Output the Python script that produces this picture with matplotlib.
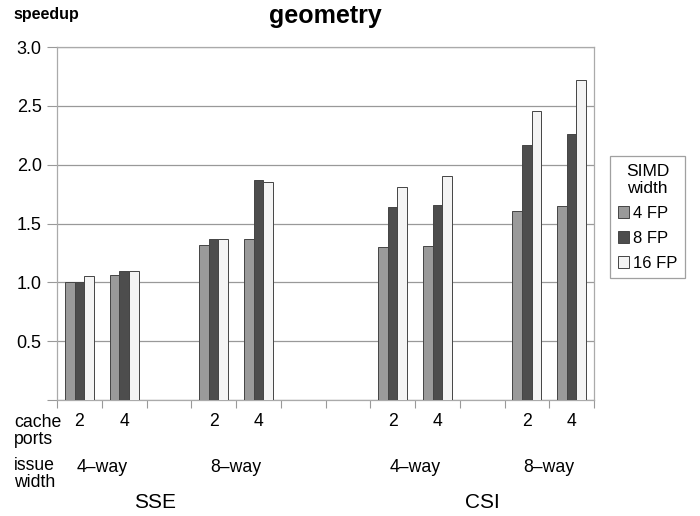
import matplotlib
matplotlib.use("Agg")
import matplotlib.pyplot as plt
import matplotlib.transforms as mtransforms
from matplotlib.patches import Patch
import numpy as np

plt.rcParams['font.family'] = ['Liberation Sans', 'DejaVu Sans']

# categories (None = empty gap slot)
cache_ports = ["2", "4", None, "2", "4", None, None, "2", "4", None, "2", "4"]
issue_labels = ["4–way", "8–way", "4–way", "8–way"]
issue_pos = [0.5, 3.5, 7.5, 10.5]
isa_labels = ["SSE", "CSI"]
isa_pos = [1.7, 9.0]

series_names = ["4 FP", "8 FP", "16 FP"]
fp4 = [1.00, 1.06, None, 1.32, 1.37, None, None, 1.30, 1.305, None, 1.61, 1.65]
fp8 = [1.00, 1.10, None, 1.367, 1.87, None, None, 1.64, 1.66, None, 2.165, 2.26]
fp16 = [1.05, 1.10, None, 1.367, 1.853, None, None, 1.81, 1.90, None, 2.46, 2.72]
colors = ["#9a9a9a", "#4d4d4d", "#f4f4f4"]

fig = plt.figure(figsize=(7.0, 5.16), dpi=100)
ax = fig.add_axes([57/700, 1-400/516, (594-57)/700, (400-47)/516])

n = len(cache_ports)
bw = 0.215
for k, (vals, c) in enumerate(zip([fp4, fp8, fp16], colors)):
    xs = [i + (k-1)*bw for i in range(n) if vals[i] is not None]
    hs = [v for v in vals if v is not None]
    ax.bar(xs, hs, width=bw, color=c, edgecolor="#444444", linewidth=0.7, zorder=3)

ax.set_xlim(-0.5, n-0.5)
ax.set_ylim(0, 3.0)
ax.set_yticks(np.arange(0, 3.01, 0.5))
ax.set_yticklabels([""] + ["%.1f" % v for v in np.arange(0.5, 3.01, 0.5)], fontsize=13)
ax.set_xticks(np.arange(-0.5, n, 1.0))
ax.set_xticklabels([])
ax.tick_params(axis='x', length=6, color="#999999", direction='out')
ax.tick_params(axis='y', length=7, color="#999999", direction='out', pad=4)
ax.yaxis.grid(True, color="#999999", linewidth=0.9, zorder=0)
ax.set_axisbelow(True)
for s in ax.spines.values():
    s.set_color("#aaaaaa")
    s.set_linewidth(0.9)

trans = mtransforms.blended_transform_factory(ax.transData, fig.transFigure)
fs = 12.7
for i, lab in enumerate(cache_ports):
    if lab is not None:
        ax.text(i, 1-422/516, lab, transform=trans, ha='center', va='center', fontsize=fs)
for p, lab in zip(issue_pos, issue_labels):
    ax.text(p, 1-467/516, lab, transform=trans, ha='center', va='center', fontsize=fs)
for p, lab in zip(isa_pos, isa_labels):
    ax.text(p, 1-503/516, lab, transform=trans, ha='center', va='center', fontsize=15)

fig.text(14/700, 1-431/516, "cache\nports", ha='left', va='center', fontsize=fs, linespacing=0.95)
fig.text(14/700, 1-474/516, "issue\nwidth", ha='left', va='center', fontsize=fs, linespacing=0.95)

fig.text(46/700, 1-14/516, "speedup", ha='center', va='center', fontsize=11.5, fontweight='bold')
fig.text(325/700, 1-16/516, "geometry", ha='center', va='center', fontsize=18, fontweight='bold')

handles = [Patch(facecolor=c, edgecolor="#444444", linewidth=0.7) for c in colors]
leg = fig.legend(handles, series_names, title="SIMD\nwidth", loc='upper left',
                 bbox_to_anchor=(610/700, 1-156/516), bbox_transform=fig.transFigure,
                 fontsize=12, title_fontsize=12.5, frameon=True, fancybox=False,
                 handlelength=0.7, handleheight=0.7, handletextpad=0.25,
                 borderpad=0.45, labelspacing=0.6, borderaxespad=0)
leg.get_frame().set_edgecolor("#888888")
leg.get_frame().set_linewidth(0.9)
leg.get_title().set_multialignment('center')

fig.savefig("out.png", dpi=100)
